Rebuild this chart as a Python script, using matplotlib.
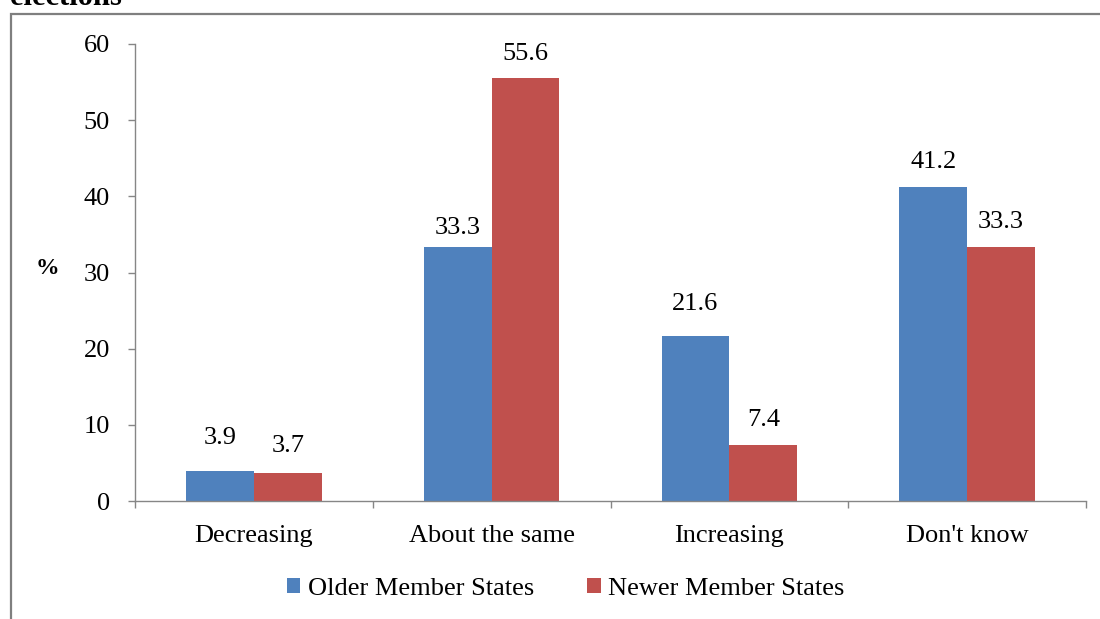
import matplotlib
matplotlib.use("Agg")
import matplotlib.pyplot as plt
from matplotlib.patches import Rectangle
import numpy as np

categories = ["Decreasing", "About the same", "Increasing", "Don't know"]
older = [3.9, 33.3, 21.6, 41.2]
newer = [3.7, 55.6, 7.4, 33.3]
series_names = ["Older Member States", "Newer Member States"]
yticks = [0, 10, 20, 30, 40, 50, 60]

# Vertical gap (pixels) between each bar top and its label baseline
older_label_gap = [27, 13, 26, 19]
newer_label_gap = [21, 18, 19, 19]

BLUE = "#4F81BD"
RED = "#C0504D"
AXIS_GRAY = "#868686"
FS = 19
DPI = 100

plt.rcParams["font.family"] = ["Liberation Serif", "DejaVu Serif"]

fig = plt.figure(figsize=(11, 6.19), dpi=DPI)
ax = fig.add_axes([135 / 1100, 1 - 501 / 619, (1086 - 135) / 1100, (501 - 44) / 619])

x = np.arange(len(categories))
w = 0.285
b1 = ax.bar(x - w / 2, older, w, color=BLUE, label=series_names[0], zorder=2)
b2 = ax.bar(x + w / 2, newer, w, color=RED, label=series_names[1], zorder=2)

for bars, vals, gaps in ((b1, older, older_label_gap), (b2, newer, newer_label_gap)):
    for rect, v, g in zip(bars, vals, gaps):
        ax.annotate(f"{v:.1f}", (rect.get_x() + rect.get_width() / 2, v),
                    xytext=(0, g * 72 / DPI), textcoords="offset points",
                    ha="center", va="baseline", fontsize=FS, color="black")

ax.set_xlim(-0.5, len(categories) - 0.5)
ax.set_ylim(0, 60)
ax.set_yticks(yticks)
ax.set_xticks(x)
ax.set_xticklabels(categories)
ax.set_xticks(np.arange(-0.5, len(categories)), minor=True)
ax.tick_params(axis="x", which="major", length=0, pad=17, labelsize=FS)
ax.tick_params(axis="x", which="minor", length=5, width=1, color=AXIS_GRAY, direction="out")
ax.tick_params(axis="y", length=5, width=1, color=AXIS_GRAY, direction="out", pad=13, labelsize=FS)

for side in ("top", "right"):
    ax.spines[side].set_visible(False)
for side in ("left", "bottom"):
    ax.spines[side].set_color(AXIS_GRAY)
    ax.spines[side].set_linewidth(1)

fig.text(47 / 1100, 1 - 268 / 619, "%", fontsize=17, fontweight="bold", ha="center", va="center")

# Chart title, only its lower part sits inside the canvas
fig.text(10 / 1100, 1 - 5 / 619, "elections", fontsize=22, fontweight="bold",
         ha="left", va="baseline")

# Outer chart frame
frame = Rectangle((11 / 1100, -0.2), 1.2, 1.2 - 14 / 619, transform=fig.transFigure,
                  fill=False, edgecolor="#7F7F7F", linewidth=1.6, clip_on=False)
fig.patches.append(frame)

ax.legend(loc="center", bbox_to_anchor=(566 / 1100, 1 - 589 / 619),
          bbox_transform=fig.transFigure, ncol=2, frameon=False, fontsize=FS,
          handlelength=0.5, handleheight=0.5, handletextpad=0.3, columnspacing=2.0)

fig.savefig("out.png", dpi=DPI)
